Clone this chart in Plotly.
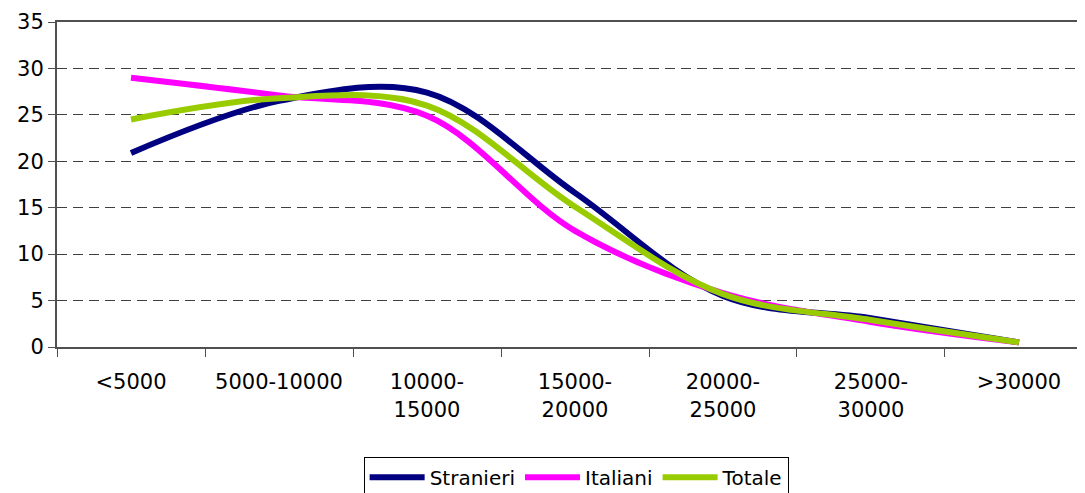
import plotly.graph_objects as go

categories = ["<5000", "5000-10000", "10000-15000", "15000-20000", "20000-25000", "25000-30000", ">30000"]
tick_labels = ["<5000", "5000-10000", "10000-<br>15000", "15000-<br>20000", "20000-<br>25000", "25000-<br>30000", ">30000"]
stranieri = [20.9, 26.5, 27.4, 16.6, 5.5, 3.1, 0.5]
italiani = [29.0, 27.1, 24.9, 12.5, 5.8, 2.7, 0.5]
totale = [24.5, 26.8, 26.0, 15.1, 5.7, 2.9, 0.5]

series = [("Stranieri", stranieri, "#000080"),
          ("Italiani", italiani, "#FF00FF"),
          ("Totale", totale, "#99CC00")]

fig = go.Figure()
for name, vals, color in series:
    fig.add_trace(go.Scatter(x=categories, y=vals, name=name, mode="lines",
                             line=dict(color=color, width=6, shape="spline", smoothing=1.0)))

font = "DejaVu Sans"
# page body has an 8px default margin: figure is sized/offset to compensate
fig.update_layout(
    template="none",
    width=1077, height=485,
    margin=dict(l=49, r=0, t=14, b=146, autoexpand=False),
    paper_bgcolor="white", plot_bgcolor="white",
    font=dict(family=font, size=20, color="black"),
    showlegend=True,
    legend=dict(orientation="h", x=0.505, xanchor="center", y=-0.338, yanchor="top",
                bordercolor="black", borderwidth=1, bgcolor="white",
                font=dict(family=font, size=20, color="black"),
                itemwidth=55, tracegroupgap=0),
)
fig.update_xaxes(
    type="category", categoryorder="array", categoryarray=categories,
    tickvals=categories, ticktext=tick_labels,
    range=[-0.5, 6.446], tickson="boundaries",
    showline=True, linecolor="#505050", linewidth=2, mirror=True,
    ticks="outside", ticklen=8, tickcolor="#505050", tickwidth=1,
    showgrid=False, zeroline=False, ticklabelstandoff=15, automargin=False,
    tickfont=dict(family=font, size=21),
)
fig.update_yaxes(
    range=[0, 35], tickvals=[0, 5, 10, 15, 20, 25, 30, 35],
    showline=True, linecolor="#505050", linewidth=2,
    ticks="outside", ticklen=7, tickcolor="#505050", tickwidth=1,
    showgrid=True, gridcolor="#404040", gridwidth=1, griddash="10px,6px",
    zeroline=False, automargin=False,
    tickfont=dict(family=font, size=21),
)
fig.write_html("out.html")
